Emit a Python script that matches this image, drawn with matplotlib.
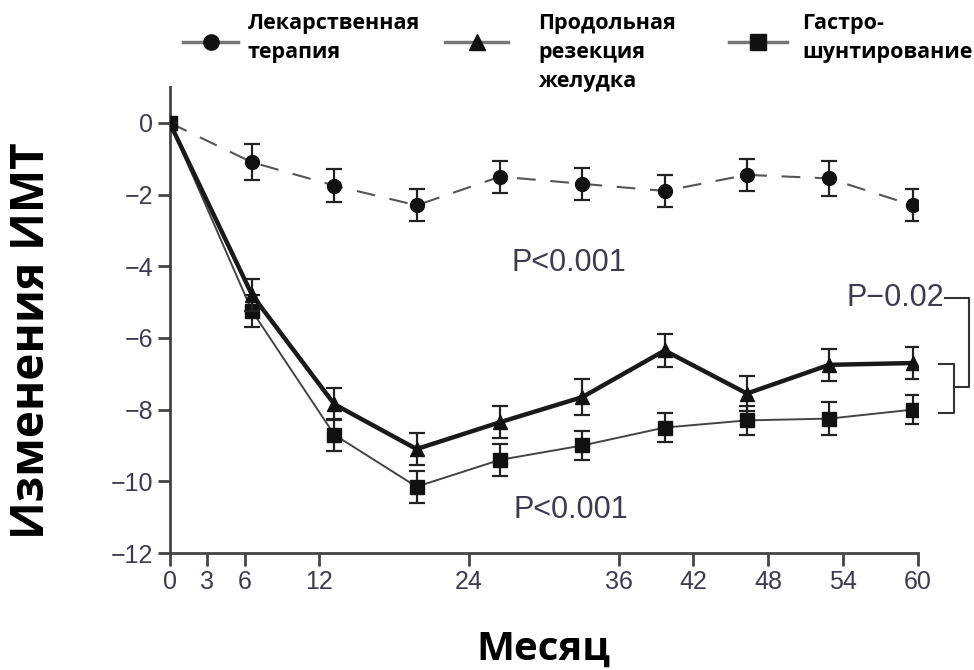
import numpy as np
import matplotlib
matplotlib.use('Agg')
import matplotlib.pyplot as plt
from matplotlib.lines import Line2D

# months at which each group was measured
months = [0, 6.6, 13.2, 19.8, 26.5, 33.1, 39.7, 46.3, 52.9, 59.6]

# change in BMI, with standard error
med = [0, -1.1, -1.75, -2.3, -1.5, -1.7, -1.9, -1.45, -1.55, -2.3]
med_err = [0, 0.5, 0.45, 0.45, 0.45, 0.45, 0.45, 0.45, 0.5, 0.45]
sleeve = [0, -4.8, -7.85, -9.1, -8.35, -7.65, -6.35, -7.55, -6.75, -6.7]
sleeve_err = [0, 0.45, 0.45, 0.45, 0.45, 0.5, 0.45, 0.5, 0.45, 0.45]
bypass = [0, -5.25, -8.7, -10.15, -9.4, -9.0, -8.5, -8.3, -8.25, -8.0]
bypass_err = [0, 0.45, 0.45, 0.45, 0.45, 0.4, 0.4, 0.4, 0.45, 0.4]

labels = ['Лекарственная\nтерапия', 'Продольная\nрезекция\nжелудка', 'Гастро-\nшунтирование']
markers = ['o', '^', 's']
xticks = [0, 3, 6, 12, 24, 36, 42, 48, 54, 60]
yticks = [0, -2, -4, -6, -8, -10, -12]

narrow = ['Liberation Sans Narrow', 'Liberation Sans', 'DejaVu Sans']
bold = ['Open Sans', 'DejaVu Sans']
tcol = '#3c3c4c'

fig = plt.figure(figsize=(9.74, 6.7), dpi=100)
ax = fig.add_axes([0.1743, 0.1746, 0.9422 - 0.1743, 0.8701 - 0.1746])

ax.errorbar(months, med, yerr=med_err, color='#555555', lw=1.5, dashes=(9, 7),
            marker='o', ms=10, mfc='#111111', mec='#111111',
            ecolor='#222222', elinewidth=1.6, capsize=5.5, capthick=1.6, zorder=3)
ax.errorbar(months, bypass, yerr=bypass_err, color='#444444', lw=1.4,
            marker='s', ms=10, mfc='#111111', mec='#111111',
            ecolor='#222222', elinewidth=1.6, capsize=5.5, capthick=1.6, zorder=3)
ax.errorbar(months, sleeve, yerr=sleeve_err, color='#1a1a1a', lw=3.2,
            marker='^', ms=10, mfc='#111111', mec='#111111',
            ecolor='#222222', elinewidth=1.6, capsize=5.5, capthick=1.6, zorder=4)

ax.set_xlim(0, 60)
ax.set_ylim(-12, 1.0)
ax.set_xticks(xticks)
ax.set_yticks(yticks)
ax.set_yticklabels(['0', '\u22122', '\u22124', '\u22126', '\u22128', '\u221210', '\u221212'])
for s in ['top', 'right']:
    ax.spines[s].set_visible(False)
for s in ['left', 'bottom']:
    ax.spines[s].set_color('#444444')
    ax.spines[s].set_linewidth(2)
ax.tick_params(axis='both', direction='out', length=9, width=2, color='#444444',
               labelsize=18, labelcolor=tcol, pad=3)
for t in ax.get_xticklabels() + ax.get_yticklabels():
    t.set_family(narrow)

ax.set_ylabel('Изменения ИМТ', fontsize=33, fontweight='bold', family=bold)
ax.yaxis.set_label_coords(-0.185, 0.455)
ax.set_xlabel('Месяц', fontsize=29, fontweight='bold', family=bold)
ax.xaxis.set_label_coords(0.5, -0.207)
ax.xaxis.label.set_va('center')
ax.yaxis.label.set_va('center')

# p-value annotations
ax.text(27.4, -3.9, 'P<0.001', fontsize=22, color=tcol, family=narrow, va='center')
ax.text(27.6, -10.8, 'P<0.001', fontsize=22, color=tcol, family=narrow, va='center')
ax.text(62.1, -4.88, 'P\u22120.02', fontsize=22, color=tcol, family=narrow,
        va='center', ha='right')
ax.plot([62.2, 64.1, 64.1, 62.9], [-4.88, -4.88, -7.36, -7.36], color='#333333',
        lw=1.5, clip_on=False)
ax.plot([61.7, 62.9, 62.9, 61.7], [-6.72, -6.72, -8.08, -8.08], color='#333333',
        lw=1.5, clip_on=False)

# legend drawn by hand so the handles sit level with the first text lines
hx = [(183, 238), (445, 508), (729, 787)]
tx = [248, 538, 802]
for (x0, x1), t, lab, m in zip(hx, tx, labels, markers):
    fig.add_artist(Line2D([x0 / 974, x1 / 974], [1 - 42 / 670] * 2, color='#777777',
                          lw=2.5, transform=fig.transFigure))
    fig.add_artist(Line2D([(x0 + x1) / 2 / 974], [1 - 42 / 670], marker=m, ms=11,
                          mfc='#111111', mec='#111111', lw=0, transform=fig.transFigure))
    fig.text(t / 974, 1 - 13 / 670, lab, fontsize=15.5, fontweight='bold', family=bold,
             va='top', ha='left', linespacing=1.5)

fig.savefig('out.png', dpi=100)
